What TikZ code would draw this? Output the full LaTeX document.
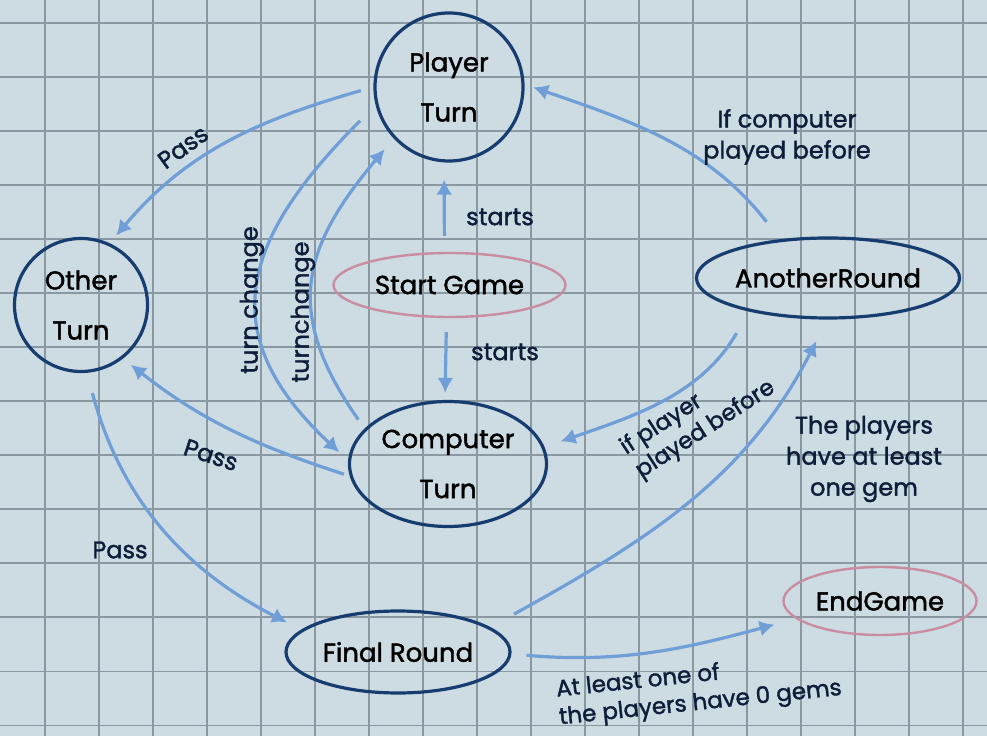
\documentclass[tikz,border=0pt]{standalone}
\usepackage{fontspec}
\setmainfont{Poppins}
\newfontfamily\hand{Poppins}[FakeBold=1.6]
\usetikzlibrary{arrows.meta,shapes.geometric}

\definecolor{paper}{RGB}{205,220,226}
\definecolor{gridline}{RGB}{138,152,162}
\definecolor{navy}{RGB}{22,60,112}
\definecolor{rose}{RGB}{200,140,163}
\definecolor{flowblue}{RGB}{112,159,216}
\definecolor{ink}{RGB}{14,30,58}

\tikzset{
  state/.style={draw=navy, line width=3.2pt, text=black, align=center,
    inner sep=0pt, font=\hand\fontsize{26}{50}\selectfont},
  roundstate/.style={state, circle},
  ovalstate/.style={state, ellipse},
  terminal/.style={ellipse, draw=rose, line width=2.4pt, text=black,
    inner sep=0pt, font=\hand\fontsize{26}{30}\selectfont},
  flow/.style={draw=flowblue, line width=3.2pt,
    -{Latex[length=15pt,width=16pt]}},
  lbl/.style={text=ink, align=center, inner sep=0pt,
    font=\hand\fontsize{24}{31}\selectfont},
  tight/.style={font=\hand\fontsize{23}{28}\selectfont},
}

\begin{document}
\begin{tikzpicture}[x=1pt,y=1pt]
  % squared paper
  \fill[paper] (0,0) rectangle (987,736);
  \useasboundingbox (0,0) rectangle (987,736);
  \foreach \i in {0,...,17}
    \draw[gridline, line width=1.6pt] (45+54*\i,0) -- (45+54*\i,736);
  \foreach \j in {0,...,13}
    \draw[gridline, line width=1.6pt] (0,712.7-54*\j) -- (987,712.7-54*\j);

  % states
  \node[roundstate, minimum size=148pt] (pt) at (449,649) {Player\\Turn};
  \node[roundstate, minimum size=133pt] (ot) at (81,431) {Other\\Turn};
  \node[terminal, minimum width=232pt, minimum height=64pt] (sg) at (449.5,451) {Start Game};
  \node[ovalstate, minimum width=197pt, minimum height=125pt] (ct) at (448,272) {Computer\\Turn};
  \node[ovalstate, minimum width=202pt, minimum height=80pt] (ar) at (828,458) {AnotherRound};
  \node[ovalstate, minimum width=224pt, minimum height=82pt] (fr) at (398,84) {Final Round};
  \node[terminal, minimum width=193pt, minimum height=68pt] (eg) at (880,135) {EndGame};

  % transitions
  \draw[flow, shorten <=13pt, shorten >=10pt] (pt.180) to[out=196, in=50] (ot.65);
  \draw[flow, shorten <=22pt, shorten >=12pt] (pt.194) to[out=225, in=137, looseness=1.35] (ct.178);
  \draw[flow, shorten <=11pt, shorten >=14pt] (ct.157) to[out=125, in=230, looseness=1.25] (pt.223);
  \draw[flow, shorten <=16pt, shorten >=17pt] ([xshift=-5pt]sg.north) -- ([xshift=-5pt]pt.south);
  \draw[flow, shorten <=14pt, shorten >=7pt] ([xshift=-3pt]sg.south) -- ([xshift=-3pt]ct.north);
  \draw[flow, shorten <=22pt, shorten >=9pt] (ar.141) to[out=128, in=341] (pt.2);
  \draw[flow, shorten <=25pt, shorten >=17pt] (ar.203) to[out=240, in=19] (ct.10);
  \draw[flow, shorten <=6pt, shorten >=10pt] (ct.187) to[out=162, in=-38] (ot.-52);
  \draw[flow, shorten <=21pt, shorten >=16pt] (ot.-85) to[out=-75, in=153] (fr.167);
  \draw[flow, shorten <=27pt, shorten >=24pt] (fr.15.5) to[out=29, in=243] (ar.-91);
  \draw[flow, shorten <=15pt, shorten >=22pt] (fr.-1) to[out=-5, in=195] (eg.192);

  % transition labels
  \node[lbl, rotate=36] (l1) at (183,589) {Pass};
  \node[lbl, rotate=90] (l2) at (252,436) {turn change};
  \node[lbl, rotate=90] (l3) at (303,424) {turnchange};
  \node[lbl] (l4) at (500,519) {starts};
  \node[lbl] (l5) at (505,384) {starts};
  \node[lbl] (l6) at (787,599) {If computer\\played before};
  \node[lbl, tight, rotate=33, align=left] (l7) at (698,318) {if player\\played before};
  \node[lbl, rotate=-18] (l8) at (211,281) {Pass};
  \node[lbl] (l9) at (120,186) {Pass};
  \node[lbl] (l10) at (864,277) {The players\\have at least\\one gem};
  \node[lbl, tight, rotate=6, align=left] (l11) at (699,46) {At least one of\\the players have 0 gems};
\end{tikzpicture}
\end{document}
